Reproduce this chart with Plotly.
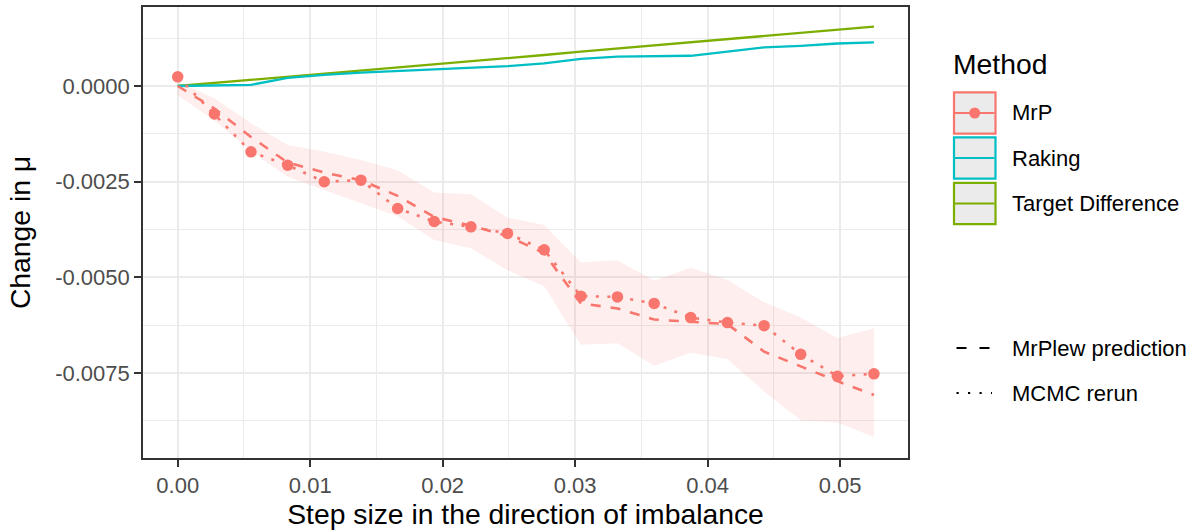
import plotly.graph_objects as go

# ---------------- data ----------------
step = [0.0, 0.00277, 0.00553, 0.0083, 0.01106, 0.01383, 0.0166, 0.01936, 0.02213, 0.02489,
        0.02766, 0.03043, 0.03319, 0.03596, 0.03872, 0.04149, 0.04426, 0.04702, 0.04979, 0.05255]

mrp_mcmc = [0.00024, -0.00073, -0.00172, -0.00207, -0.00250, -0.00246, -0.00320, -0.00354, -0.00368, -0.00385,
            -0.00428, -0.00549, -0.00551, -0.00568, -0.00605, -0.00618, -0.00626, -0.00701, -0.00758, -0.00752]

mrp_pred = [0.0, -0.00059, -0.00133, -0.00200, -0.00226, -0.00246, -0.00287, -0.00342, -0.00365, -0.00392,
            -0.00437, -0.00568, -0.00581, -0.00610, -0.00616, -0.00622, -0.00694, -0.00733, -0.00771, -0.00807]

mrp_upper = [0.00011, -0.00032, -0.00097, -0.00154, -0.00172, -0.00193, -0.00220, -0.00278, -0.00283, -0.00344,
             -0.00363, -0.00461, -0.00455, -0.00508, -0.00475, -0.00507, -0.00565, -0.00605, -0.00658, -0.00633]

mrp_lower = [-0.00024, -0.00090, -0.00170, -0.00237, -0.00272, -0.00306, -0.00340, -0.00402, -0.00424, -0.00481,
             -0.00523, -0.00676, -0.00672, -0.00731, -0.00697, -0.00713, -0.00798, -0.00873, -0.00879, -0.00917]

raking = [0.0, 0.00001, 0.00003, 0.00021, 0.00029, 0.00035, 0.00039, 0.00043, 0.00047, 0.00052,
          0.00059, 0.00071, 0.00077, 0.00078, 0.00079, 0.00090, 0.00101, 0.00105, 0.00111, 0.00114]

target_diff = [0.0, 0.00008, 0.00016, 0.00024, 0.00033, 0.00041, 0.00049, 0.00057, 0.00065, 0.00073,
               0.00081, 0.00090, 0.00098, 0.00106, 0.00114, 0.00122, 0.00130, 0.00139, 0.00147, 0.00155]

x_ticks = [0.0, 0.01, 0.02, 0.03, 0.04, 0.05]
x_ticktext = ["0.00", "0.01", "0.02", "0.03", "0.04", "0.05"]
y_ticks = [-0.0075, -0.005, -0.0025, 0.0]
y_ticktext = ["-0.0075", "-0.0050", "-0.0025", "0.0000"]
x_minor = [0.005, 0.015, 0.025, 0.035, 0.045]
y_minor = [0.00125, -0.00125, -0.00375, -0.00625, -0.00875]

methods = ["MrP", "Raking", "Target Difference"]
method_colors = ["#F8766D", "#00BFC4", "#7CAE00"]
linetypes = ["MrPlew prediction", "MCMC rerun"]

# ---------------- figure ----------------
FONT = "Liberation Sans, Arial, Helvetica, sans-serif"
W, H = 1199, 531
ML, MR, MT, MB = 143, 291, 7, 73
PW, PH = W - ML - MR, H - MT - MB

fig = go.Figure()

# ribbon
fig.add_trace(go.Scatter(
    x=step + step[::-1], y=mrp_upper + mrp_lower[::-1],
    fill="toself", fillcolor="rgba(248,118,109,0.12)", line=dict(width=0),
    mode="lines", hoverinfo="skip", showlegend=False))

fig.add_trace(go.Scatter(x=step, y=target_diff, mode="lines",
                         line=dict(color=method_colors[2], width=2.3), showlegend=False))
fig.add_trace(go.Scatter(x=step, y=raking, mode="lines",
                         line=dict(color=method_colors[1], width=2.3), showlegend=False))
fig.add_trace(go.Scatter(x=step, y=mrp_pred, mode="lines",
                         line=dict(color=method_colors[0], width=2.6, dash="10px,10px"), showlegend=False))
fig.add_trace(go.Scatter(x=step, y=mrp_mcmc, mode="lines+markers",
                         line=dict(color=method_colors[0], width=2.6, dash="3px,8.5px"),
                         marker=dict(color=method_colors[0], size=11.5), showlegend=False))

axis_common = dict(
    showgrid=True, gridcolor="#EBEBEB", gridwidth=2,
    showline=True, mirror=True, linecolor="#333333", linewidth=1.6,
    ticks="outside", ticklen=7, tickwidth=1.6, tickcolor="#333333",
    zeroline=False,
    tickfont=dict(family=FONT, size=22, color="#4D4D4D"),
)

fig.update_layout(
    width=W, height=H,
    margin=dict(l=ML, r=MR, t=MT, b=MB, autoexpand=False),
    paper_bgcolor="white", plot_bgcolor="white",
    font=dict(family=FONT, color="black"),
    xaxis=dict(range=[-0.00262, 0.05512], tickvals=x_ticks, ticktext=x_ticktext,
               minor=dict(tickvals=x_minor, showgrid=True, gridcolor="#EBEBEB", gridwidth=1, ticks=""),
               title=dict(text="Step size in the direction of imbalance",
                          font=dict(family=FONT, size=28.3, color="black"), standoff=6),
               **axis_common),
    yaxis=dict(range=[-0.009718, 0.002064], tickvals=y_ticks, ticktext=y_ticktext,
               minor=dict(tickvals=y_minor, showgrid=True, gridcolor="#EBEBEB", gridwidth=1, ticks=""),
               title=dict(text="Change in μ",
                          font=dict(family=FONT, size=28.3, color="black"), standoff=16),
               **axis_common),
    showlegend=False,
    hovermode=False,
)

# ---------------- manual ggplot-style legend ----------------
def px(xp):
    return (xp - ML) / PW

def py(yp):
    return (MT + PH - yp) / PH

shapes = []
annotations = []

annotations.append(dict(x=px(951), y=py(64), xref="paper", yref="paper", text="Method",
                        showarrow=False, xanchor="left", yanchor="middle",
                        font=dict(family=FONT, size=28.3, color="black")))

key_centers = [113, 158, 203.5]
for name, col, cy in zip(methods, method_colors, key_centers):
    shapes.append(dict(type="rect", xref="paper", yref="paper",
                       x0=px(954), x1=px(995.5), y0=py(cy - 20.7), y1=py(cy + 20.7),
                       fillcolor="#EBEBEB", line=dict(color=col, width=2.2)))
    shapes.append(dict(type="line", xref="paper", yref="paper",
                       x0=px(955), x1=px(994.5), y0=py(cy), y1=py(cy),
                       line=dict(color=col, width=2.2)))
    if name == "MrP":
        shapes.append(dict(type="circle", xref="paper", yref="paper",
                           x0=px(974.7 - 5.5), x1=px(974.7 + 5.5), y0=py(cy - 5.5), y1=py(cy + 5.5),
                           fillcolor=col, line=dict(color=col, width=0)))
    annotations.append(dict(x=px(1010), y=py(cy), xref="paper", yref="paper", text=name,
                            showarrow=False, xanchor="left", yanchor="middle",
                            font=dict(family=FONT, size=22, color="black")))

lt_centers = [348, 393]
lt_dash = ["10px,13px", "2.2px,9.3px"]
for name, cy, dsh in zip(linetypes, lt_centers, lt_dash):
    shapes.append(dict(type="line", xref="paper", yref="paper",
                       x0=px(956.5), x1=px(992), y0=py(cy), y1=py(cy),
                       line=dict(color="black", width=2.2, dash=dsh)))
    annotations.append(dict(x=px(1010), y=py(cy), xref="paper", yref="paper", text=name,
                            showarrow=False, xanchor="left", yanchor="middle",
                            font=dict(family=FONT, size=22, color="black")))

fig.update_layout(shapes=shapes, annotations=annotations)

fig.write_html("out.html", config={"displayModeBar": False},
               post_script="document.body.style.margin='0';document.body.style.overflow='hidden';")
